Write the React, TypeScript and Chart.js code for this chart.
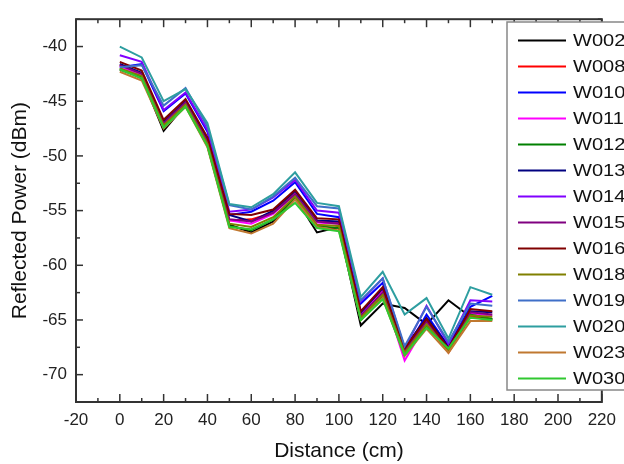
import React, { useEffect, useRef } from "react";
import { Chart, registerables } from "chart.js";

Chart.register(...registerables);

const distances = [0, 10, 20, 30, 40, 50, 60, 70, 80, 90, 100, 110, 120, 130, 140, 150, 160, 170];

const seriesNames = ["W002", "W008", "W010", "W011", "W012", "W013", "W014", "W015", "W016", "W018", "W019", "W020", "W023", "W030"];
const seriesColors = ["#000000", "#ff0000", "#0000ff", "#ff00ff", "#008000", "#000080", "#8000ff", "#800080", "#800000", "#808000", "#3f6fc8", "#2e9ea0", "#c07830", "#30c830"];

const w002 = [-42.1, -42.8, -47.7, -45.3, -49.0, -56.3, -57.0, -56.0, -53.8, -57.0, -56.5, -65.5, -63.5, -63.9, -65.4, -63.2, -64.7, -64.9];
const w008 = [-41.7, -42.5, -47.0, -45.0, -48.6, -55.9, -55.8, -55.2, -53.4, -56.0, -56.1, -64.6, -62.3, -67.8, -65.2, -68.0, -64.7, -65.0];
const w010 = [-41.9, -41.6, -45.9, -44.3, -47.8, -55.4, -55.1, -54.1, -52.4, -55.3, -55.6, -63.5, -61.6, -67.9, -64.5, -67.4, -63.8, -62.8];
const w011 = [-41.8, -42.6, -46.9, -45.1, -48.6, -55.9, -56.2, -55.3, -53.5, -56.1, -56.2, -64.5, -62.4, -68.7, -65.3, -67.8, -64.4, -64.6];
const w012 = [-42.0, -42.9, -47.3, -45.4, -49.1, -56.4, -56.8, -55.8, -53.9, -56.4, -56.6, -65.0, -62.9, -68.2, -65.6, -67.6, -64.5, -64.9];
const w013 = [-41.6, -42.4, -46.9, -45.0, -48.5, -55.4, -56.0, -55.0, -53.2, -55.9, -56.0, -64.3, -62.1, -67.5, -64.8, -67.4, -64.2, -64.3];
const w014 = [-40.8, -41.4, -45.8, -44.2, -47.6, -55.1, -54.9, -53.8, -52.2, -55.0, -55.2, -63.3, -61.2, -67.6, -63.7, -67.2, -63.2, -63.3];
const w015 = [-41.7, -42.5, -47.0, -45.1, -48.7, -55.8, -56.0, -55.2, -53.5, -56.0, -56.2, -64.6, -62.5, -67.9, -65.1, -67.7, -64.3, -64.5];
const w016 = [-41.4, -42.2, -46.7, -44.8, -48.3, -55.3, -55.4, -54.9, -53.1, -55.7, -55.8, -64.2, -62.0, -67.6, -64.9, -67.6, -64.0, -64.2];
const w018 = [-42.0, -42.7, -47.2, -45.3, -48.9, -56.2, -56.5, -55.6, -53.7, -56.3, -56.4, -64.8, -62.7, -68.0, -65.4, -67.8, -64.6, -64.7];
const w019 = [-41.9, -41.7, -45.4, -43.8, -47.3, -54.5, -54.9, -53.7, -52.0, -54.6, -54.8, -63.2, -61.2, -67.4, -63.8, -67.0, -63.5, -63.7];
const w020 = [-40.0, -41.0, -45.0, -43.9, -47.0, -54.4, -54.7, -53.5, -51.5, -54.3, -54.6, -62.9, -60.6, -64.5, -63.0, -66.7, -62.0, -62.7];
const w023 = [-42.3, -43.1, -47.5, -45.5, -49.2, -56.6, -57.1, -56.2, -54.0, -56.5, -56.8, -65.0, -63.0, -68.3, -65.8, -68.0, -65.1, -65.1];
const w030 = [-42.1, -42.9, -47.4, -45.5, -49.1, -56.5, -56.7, -55.8, -54.3, -56.6, -56.9, -65.0, -63.1, -68.2, -65.7, -67.6, -64.8, -65.0];

const seriesValues = [w002, w008, w010, w011, w012, w013, w014, w015, w016, w018, w019, w020, w023, w030];

const xTicks = [-20, 0, 20, 40, 60, 80, 100, 120, 140, 160, 180, 200, 220];
const xMinorTicks = [-10, 10, 30, 50, 70, 90, 110, 130, 150, 170, 190, 210];
const yTicks = [-70, -65, -60, -55, -50, -45, -40];
const yMinorTicks = [-72.5, -67.5, -62.5, -57.5, -52.5, -47.5, -42.5, -37.5];

const FONT = "'Liberation Sans', Arial, sans-serif";

const framePlugin = {
  id: "originFrame",
  afterDraw(chart: any) {
    const { ctx, chartArea } = chart;
    const { left, right, top, bottom } = chartArea;
    const xs = chart.scales.x;
    const ys = chart.scales.y;
    ctx.save();
    ctx.strokeStyle = "#333333";
    ctx.lineWidth = 2;
    ctx.lineCap = "butt";
    const seg = (x1: number, y1: number, x2: number, y2: number) => {
      ctx.beginPath();
      ctx.moveTo(x1, y1);
      ctx.lineTo(x2, y2);
      ctx.stroke();
    };
    ctx.strokeRect(left, top, right - left, bottom - top);
    ctx.lineWidth = 1.5;
    xTicks.forEach((v) => {
      const p = xs.getPixelForValue(v);
      seg(p, bottom, p, bottom - 8);
      seg(p, top, p, top + 8);
    });
    xMinorTicks.forEach((v) => {
      const p = xs.getPixelForValue(v);
      seg(p, bottom, p, bottom - 4);
      seg(p, top, p, top + 4);
    });
    yTicks.forEach((v) => {
      const p = ys.getPixelForValue(v);
      seg(left, p, left + 7, p);
      seg(right, p, right - 7, p);
    });
    yMinorTicks.forEach((v) => {
      const p = ys.getPixelForValue(v);
      seg(left, p, left + 4, p);
      seg(right, p, right - 4, p);
    });

    // legend
    const lx = 507;
    const ly = 22;
    const lw = 140;
    const lh = 368;
    ctx.fillStyle = "#ffffff";
    ctx.fillRect(lx, ly, lw, lh);
    ctx.strokeStyle = "#888888";
    ctx.lineWidth = 1.5;
    ctx.strokeRect(lx, ly, lw, lh);
    ctx.font = `17px ${FONT}`;
    ctx.textBaseline = "middle";
    ctx.textAlign = "left";
    seriesNames.forEach((name, i) => {
      const yy = 40.5 + i * 26;
      ctx.strokeStyle = seriesColors[i];
      ctx.lineWidth = 2;
      seg(518, yy, 566, yy);
      ctx.save();
      ctx.translate(573, yy + 1);
      ctx.scale(1.18, 1);
      ctx.fillStyle = "#111111";
      ctx.fillText(name, 0, 0);
      ctx.restore();
    });
    ctx.restore();
  },
};

export default function App() {
  const canvasRef = useRef<HTMLCanvasElement | null>(null);

  useEffect(() => {
    if (!canvasRef.current) return;
    const n = seriesNames.length;
    const chart = new Chart(canvasRef.current, {
      type: "line",
      data: {
        datasets: seriesNames.map((name, i) => ({
          label: name,
          data: distances.map((d, j) => ({ x: d, y: seriesValues[i][j] })),
          borderColor: seriesColors[i],
          backgroundColor: seriesColors[i],
          borderWidth: 2,
          pointRadius: 0,
          tension: 0,
          fill: false,
          order: n - 1 - i,
        })),
      },
      options: {
        animation: false,
        responsive: true,
        maintainAspectRatio: false,
        layout: { padding: { top: 10, right: 17, left: 0, bottom: 0 } },
        plugins: {
          legend: { display: false },
          tooltip: { enabled: false },
        },
        scales: {
          x: {
            type: "linear",
            min: -20,
            max: 220,
            grid: { display: false, drawTicks: false },
            border: { display: false },
            afterBuildTicks: (scale: any) => {
              scale.ticks = xTicks.map((v) => ({ value: v }));
            },
            afterFit: (scale: any) => {
              scale.height = 62;
            },
            ticks: {
              padding: 8,
              maxRotation: 0,
              autoSkip: false,
              color: "#222222",
              font: { family: FONT, size: 17 },
            },
            title: {
              display: true,
              text: "Distance (cm)",
              color: "#111111",
              font: { family: FONT, size: 21 },
              padding: { top: 0, bottom: 0 },
            },
          },
          y: {
            type: "linear",
            min: -72.5,
            max: -37.5,
            grid: { display: false, drawTicks: false },
            border: { display: false },
            afterBuildTicks: (scale: any) => {
              scale.ticks = yTicks.map((v) => ({ value: v }));
            },
            afterFit: (scale: any) => {
              scale.width = 76;
            },
            ticks: {
              padding: 9,
              autoSkip: false,
              color: "#222222",
              font: { family: FONT, size: 17 },
            },
            title: {
              display: true,
              text: "Reflected Power (dBm)",
              color: "#111111",
              font: { family: FONT, size: 21 },
              padding: { top: 8, bottom: 0 },
            },
          },
        },
      },
      plugins: [framePlugin],
    });
    return () => chart.destroy();
  }, []);

  return (
    <div style={{ position: "absolute", left: 0, top: 0, width: 624, height: 464, background: "#ffffff" }}>
      <canvas ref={canvasRef} />
    </div>
  );
}
